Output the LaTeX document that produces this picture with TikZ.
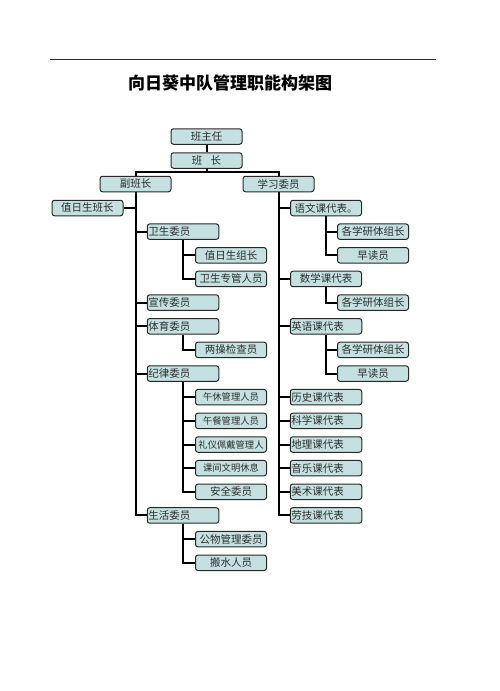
\documentclass[tikz,border=0pt]{standalone}
\usepackage{fontspec}
\usepackage{tikz}
\usetikzlibrary{positioning}
\usepackage{xcolor}
\newfontfamily\cjk{Noto Sans CJK SC}
\definecolor{boxfill}{RGB}{196, 224, 224}
\definecolor{boxline}{RGB}{40, 40, 40}
\definecolor{inkgray}{RGB}{45, 45, 45}
\tikzset{
  post/.style={draw=boxline, fill=boxfill, rounded corners=2.5pt, line width=1pt,
    minimum height=15.5pt, text width=71pt, inner xsep=0pt, inner ysep=0pt,
    align=center, text=inkgray, font=\cjk\fontsize{10.5}{12}\selectfont},
  postl/.style={post, text width=69.5pt, inner xsep=1pt, align=left},
  posts/.style={post, font=\cjk\fontsize{9.3}{11}\selectfont},
  link/.style={draw=black, line width=2pt}
}

\begin{document}
\begin{tikzpicture}[x=1pt, y=-1pt]
\useasboundingbox[fill=white] (0,0) rectangle (499,691);

\draw[inkgray, line width=.8pt] (50,59) -- (436,59);
\node[font=\cjk\bfseries\fontsize{17}{20}\selectfont] (title) at (230,83) {向日葵中队管理职能构架图};

\node[post] (bzr) at (206.5,136.5) {班主任};
\node[post] (bz) at (206.5,160.5) {班\hspace{.8em}长};
\coordinate (jn) at (206.5,172);
\node[post] (fbz) at (135.5,184) {副班长};
\node[post] (xxwy) at (278.5,184) {学习委员};

\node[post] (zrbz) at (87.5,208) {值日生班长};
\node[postl] (wswy) at (183,231.65) {卫生委员};
\node[post] (zrzz) at (231,255.3) {值日生组长};
\node[post] (wszg) at (231,278.95) {卫生专管人员};
\node[postl] (xcwy) at (183,302.6) {宣传委员};
\node[postl] (tywy) at (183,326.25) {体育委员};
\node[post] (lcjc) at (231,349.9) {两操检查员};
\node[postl] (jlwy) at (183,373.55) {纪律委员};
\node[posts] (wxgl) at (231,397.2) {午休管理人员};
\node[posts] (wcgl) at (231,420.85) {午餐管理人员};
\node[posts] (lypd) at (231,444.5) {礼仪佩戴管理人};
\node[posts] (kjwm) at (231,468.15) {课间文明休息};
\node[post] (aqwy) at (231,491.8) {安全委员};
\node[postl] (shwy) at (183,515.45) {生活委员};
\node[post] (gwgl) at (231,539.1) {公物管理委员};
\node[post] (bsry) at (231,562.75) {搬水人员};

\node[post] (yw) at (326,208) {语文课代表。};
\node[post] (yw1) at (373,231.65) {各学研体组长};
\node[post] (yw2) at (373,255.3) {早读员};
\node[post] (sx) at (326,278.95) {数学课代表};
\node[post] (sx1) at (373,302.6) {各学研体组长};
\node[postl] (yy) at (326,326.25) {英语课代表};
\node[post] (yy1) at (373,349.9) {各学研体组长};
\node[post] (yy2) at (373,373.55) {早读员};
\node[postl] (ls) at (326,397.2) {历史课代表};
\node[postl] (kx) at (326,420.85) {科学课代表};
\node[postl] (dl) at (326,444.5) {地理课代表};
\node[postl] (yl) at (326,468.15) {音乐课代表};
\node[postl] (ms) at (326,491.8) {美术课代表};
\node[postl] (lj) at (326,515.45) {劳技课代表};

\draw[link] (bzr) -- (bz);
\draw[link] (bz) -- (jn);
\draw[link] (fbz.north) |- (jn) -| (xxwy.north);

\draw[link] (fbz.south) |- (zrbz.east);
\draw[link] (fbz.south) |- (wswy.west);
\draw[link] (fbz.south) |- (xcwy.west);
\draw[link] (fbz.south) |- (tywy.west);
\draw[link] (fbz.south) |- (jlwy.west);
\draw[link] (fbz.south) |- (shwy.west);

\draw[link] (wswy.south) |- (zrzz.west);
\draw[link] (wswy.south) |- (wszg.west);
\draw[link] (tywy.south) |- (lcjc.west);
\draw[link] (jlwy.south) |- (wxgl.west);
\draw[link] (jlwy.south) |- (wcgl.west);
\draw[link] (jlwy.south) |- (lypd.west);
\draw[link] (jlwy.south) |- (kjwm.west);
\draw[link] (jlwy.south) |- (aqwy.west);
\draw[link] (shwy.south) |- (gwgl.west);
\draw[link] (shwy.south) |- (bsry.west);

\draw[link] (xxwy.south) |- (yw.west);
\draw[link] (xxwy.south) |- (sx.west);
\draw[link] (xxwy.south) |- (yy.west);
\draw[link] (xxwy.south) |- (ls.west);
\draw[link] (xxwy.south) |- (kx.west);
\draw[link] (xxwy.south) |- (dl.west);
\draw[link] (xxwy.south) |- (yl.west);
\draw[link] (xxwy.south) |- (ms.west);
\draw[link] (xxwy.south) |- (lj.west);

\draw[link] (yw.south) |- (yw1.west);
\draw[link] (yw.south) |- (yw2.west);
\draw[link] (sx.south) |- (sx1.west);
\draw[link] (yy.south) |- (yy1.west);
\draw[link] (yy.south) |- (yy2.west);

\end{tikzpicture}
\end{document}
